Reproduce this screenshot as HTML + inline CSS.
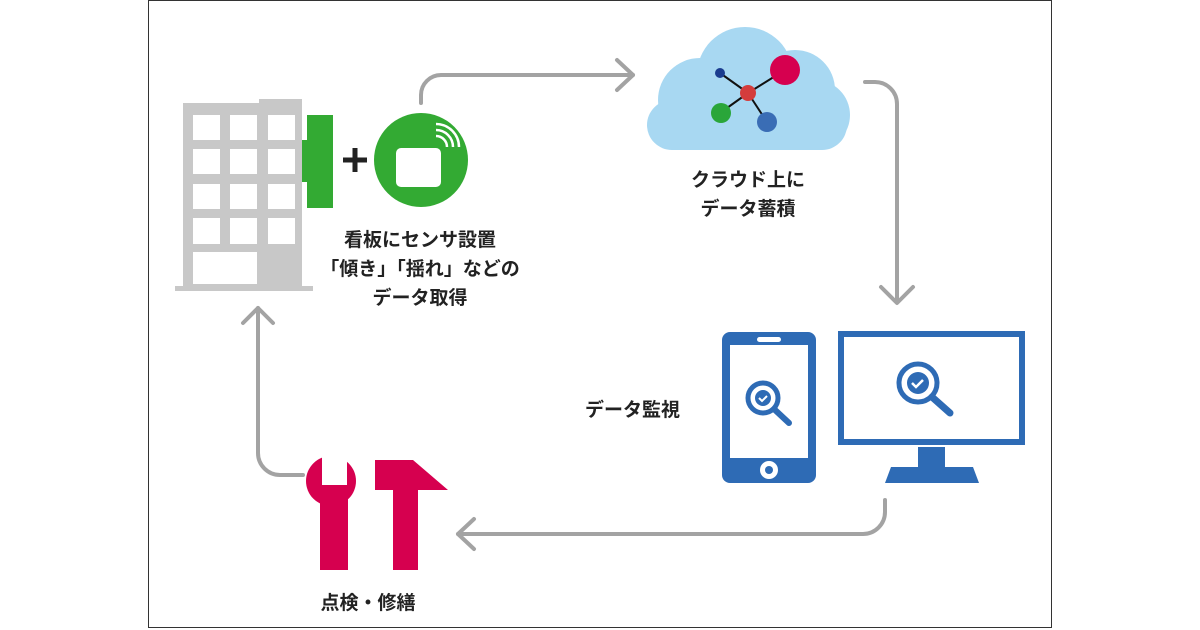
<!DOCTYPE html><html><head><meta charset="utf-8"><style>
body{margin:0;background:#fff;width:1200px;height:630px;overflow:hidden;font-family:"Liberation Sans","Noto Sans CJK JP",sans-serif}
.t{position:absolute;font-weight:bold;font-size:19px;color:#222;text-align:center;line-height:29px;white-space:nowrap}
</style></head><body>
<svg width="1200" height="630" style="position:absolute;left:0;top:0">
<rect x="148.5" y="0.5" width="903" height="627" fill="none" stroke="#333" stroke-width="1"/>
<!-- building -->
<rect x="183" y="103" width="119" height="185" fill="#c8c8c8"/>
<rect x="259" y="99" width="43" height="10" fill="#c8c8c8"/>
<rect x="175" y="286" width="138" height="5" fill="#c8c8c8"/>
<g fill="#fff">
<rect x="193" y="115" width="27" height="25"/><rect x="230" y="115" width="27" height="25"/><rect x="268" y="115" width="27" height="25"/>
<rect x="193" y="149" width="27" height="25"/><rect x="230" y="149" width="27" height="25"/><rect x="268" y="149" width="27" height="25"/>
<rect x="193" y="184" width="27" height="25"/><rect x="230" y="184" width="27" height="25"/><rect x="268" y="184" width="27" height="25"/>
<rect x="193" y="218" width="27" height="26"/><rect x="230" y="218" width="27" height="26"/><rect x="268" y="218" width="27" height="26"/>
<rect x="193" y="252" width="64" height="32"/>
</g>
<rect x="302" y="140" width="6" height="42" fill="#33aa33"/>
<rect x="307" y="115" width="26" height="93" fill="#33aa33"/>
<path d="M355 148v24M343 160h24" stroke="#222" stroke-width="5"/>
<circle cx="421" cy="160" r="47" fill="#33aa33"/>
<rect x="396" y="148" width="45" height="39" rx="5" fill="#fff"/>
<g fill="none" stroke="#fff" stroke-width="2.5"><path d="M436 136a11 11 0 0 1 11 11"/><path d="M436 130a17 17 0 0 1 17 17"/><path d="M436 124a23 23 0 0 1 23 23"/></g>
<!-- arrows -->
<g fill="none" stroke="#a3a3a3" stroke-width="4" stroke-linecap="round" stroke-linejoin="round">
<path d="M421 103V95a20 20 0 0 1 20-20H633"/><path d="M617 60l16 15-16 15"/>
<path d="M865 82h10a22 22 0 0 1 22 22V302"/><path d="M881 287l16 16 16-16"/>
<path d="M885 500v12a22 22 0 0 1-22 22H458"/><path d="M474 519l-16 15 16 15"/>
<path d="M303 475h-23a22 22 0 0 1-22-22V308"/><path d="M243 323l15-15 15 15"/>
</g>
<!-- cloud -->
<g fill="#a8d8f2">
<circle cx="700" cy="100" r="42"/><circle cx="745" cy="75" r="48"/><circle cx="795" cy="90" r="40"/><circle cx="815" cy="115" r="35"/>
<rect x="647" y="100" width="200" height="50" rx="25"/>
</g>
<g stroke="#111" stroke-width="2" fill="none"><path d="M720 73L748 93L785 70M748 93L720 113M748 93L767 122"/></g>
<circle cx="748" cy="93" r="8" fill="#d43c3c"/>
<circle cx="785" cy="70" r="15" fill="#d6004f"/>
<circle cx="720" cy="73" r="5" fill="#1a3c8f"/>
<circle cx="721" cy="113" r="10" fill="#2aa63a"/>
<circle cx="767" cy="122" r="10" fill="#3a6db5"/>
<!-- phone -->
<rect x="722" y="332" width="94" height="151" rx="8" fill="#2e6bb5"/>
<rect x="730" y="345" width="78" height="113" fill="#fff"/>
<rect x="757" y="337" width="24" height="5" rx="2.5" fill="#fff"/>
<circle cx="769" cy="470" r="9" fill="#fff"/><circle cx="769" cy="470" r="4" fill="#2e6bb5"/>
<g fill="none" stroke="#2e6bb5" stroke-linecap="round">
<circle cx="763" cy="398" r="15" stroke-width="5"/><path d="M774 409l15 14" stroke-width="6"/>
<circle cx="918" cy="383" r="19" stroke-width="5"/><path d="M932 397l18 16" stroke-width="7"/>
</g>
<circle cx="763" cy="398" r="8" fill="#2e6bb5"/><path d="M759 398l3 3 5-5" stroke="#fff" stroke-width="2" fill="none"/>
<circle cx="918" cy="383" r="11" fill="#2e6bb5"/><path d="M912 383l4 4 7-7" stroke="#fff" stroke-width="2.5" fill="none"/>
<!-- monitor -->
<rect x="841" y="334" width="181" height="108" fill="none" stroke="#2e6bb5" stroke-width="6"/>
<rect x="918" y="447" width="27" height="20" fill="#2e6bb5"/>
<path d="M891 467H973L979 483H885Z" fill="#2e6bb5"/>
<!-- tools -->
<g fill="#d6004f">
<circle cx="331" cy="481" r="25"/>
<rect x="320" y="490" width="28" height="80"/>
<path d="M375 460H413L448 490H418V570H393V490H375Z"/>
</g>
<rect x="322" y="452" width="25" height="33" fill="#fff"/>
</svg>
<div class="t" style="left:320px;top:226px;width:200px">看板にセンサ設置<br>「傾き」「揺れ」などの<br>データ取得</div>
<div class="t" style="left:648px;top:166px;width:200px">クラウド上に<br>データ蓄積</div>
<div class="t" style="left:585px;top:396px">データ監視</div>
<div class="t" style="left:268px;top:589px;width:200px">点検・修繕</div>
</body></html>
